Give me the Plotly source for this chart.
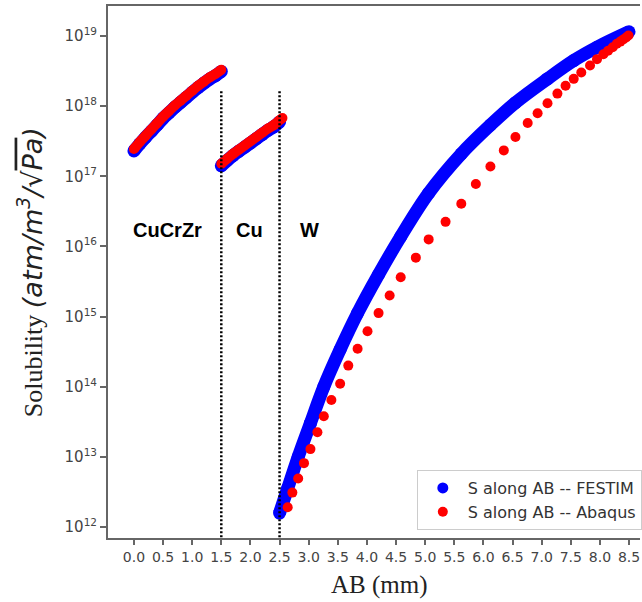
import math
import plotly.graph_objects as go

# ---------------- data ----------------
# CuCrZr layer (0 - 1.5 mm)
cucrzr_x = [0.0, 0.1, 0.2, 0.3, 0.4, 0.5, 0.6, 0.7, 0.8, 0.9, 1.0, 1.1, 1.2, 1.3, 1.4, 1.5]
cucrzr_festim = [2.30e17, 2.90e17, 3.60e17, 4.40e17, 5.40e17, 6.70e17, 8.00e17, 9.60e17,
                 1.13e18, 1.33e18, 1.57e18, 1.84e18, 2.12e18, 2.43e18, 2.72e18, 3.13e18]
cucrzr_abaqus = [2.45e17, 3.09e17, 3.80e17, 4.68e17, 5.75e17, 7.08e17, 8.51e17, 1.02e18,
                 1.20e18, 1.41e18, 1.66e18, 1.95e18, 2.24e18, 2.57e18, 2.88e18, 3.31e18]

# Cu layer (1.5 - 2.5 mm)
cu_x_festim = [1.5, 1.6, 1.7, 1.8, 1.9, 2.0, 2.1, 2.2, 2.3, 2.4, 2.5]
cu_festim = [1.41e17, 1.68e17, 1.97e17, 2.27e17, 2.60e17, 2.98e17, 3.43e17, 3.94e17,
             4.52e17, 5.07e17, 5.95e17]
cu_x_abaqus = [1.5, 1.6, 1.7, 1.8, 1.9, 2.0, 2.1, 2.2, 2.3, 2.4, 2.5, 2.55]
cu_abaqus = [1.51e17, 1.78e17, 2.09e17, 2.40e17, 2.75e17, 3.16e17, 3.63e17, 4.17e17,
             4.79e17, 5.37e17, 6.31e17, 6.76e17]

# W layer (2.5 - 8.5 mm)
w_x_festim = [2.5, 2.64, 2.82, 3.03, 3.26, 3.54, 3.84, 4.2, 4.58, 5.06, 5.62, 6.12,
              6.55, 7.1, 7.55, 7.95, 8.5]
w_festim = [1.58e12, 3.55e12, 1.00e13, 3.02e13, 1.00e14, 3.39e14, 1.12e15, 3.98e15,
            1.38e16, 5.75e16, 2.09e17, 5.37e17, 1.12e18, 2.45e18, 4.47e18, 6.92e18, 1.15e19]
w_x_abaqus = [2.64, 2.72, 2.82, 2.92, 3.03, 3.15, 3.26, 3.39, 3.54, 3.68, 3.84, 4.01,
              4.20, 4.39, 4.58, 4.84, 5.06, 5.35, 5.62, 5.87, 6.12, 6.35, 6.55, 6.76,
              6.93, 7.10, 7.27, 7.41, 7.55, 7.68, 7.83, 7.95, 8.06, 8.14, 8.22, 8.29,
              8.35, 8.40, 8.45, 8.49]
w_abaqus = [1.91e12, 3.09e12, 4.90e12, 8.13e12, 1.29e13, 2.24e13, 3.80e13, 6.46e13,
            1.10e14, 2.00e14, 3.47e14, 6.17e14, 1.12e15, 2.00e15, 3.63e15, 6.92e15,
            1.26e16, 2.24e16, 4.07e16, 7.76e16, 1.38e17, 2.34e17, 3.63e17, 5.75e17,
            7.94e17, 1.10e18, 1.51e18, 1.95e18, 2.45e18, 3.02e18, 3.80e18, 4.68e18,
            5.50e18, 6.17e18, 6.92e18, 7.76e18, 8.32e18, 8.91e18, 9.55e18, 1.02e19]

# interfaces
interface_x = [1.5, 2.5]
interface_top = [1.74e18, 1.66e18]

# layer labels
layer_names = ["CuCrZr", "Cu", "W"]
layer_label_x = [0.58, 1.99, 3.01]
layer_label_y = 1.7e16

x_ticks = [0.0, 0.5, 1.0, 1.5, 2.0, 2.5, 3.0, 3.5, 4.0, 4.5, 5.0, 5.5, 6.0, 6.5, 7.0, 7.5, 8.0, 8.5]
y_ticks = [1e12, 1e13, 1e14, 1e15, 1e16, 1e17, 1e18, 1e19]
y_tick_text = ["10<sup>12</sup>", "10<sup>13</sup>", "10<sup>14</sup>", "10<sup>15</sup>",
               "10<sup>16</sup>", "10<sup>17</sup>", "10<sup>18</sup>", "10<sup>19</sup>"]

x_title = "AB (mm)"
y_title = ("Solubility <span style='font-family:DejaVu Sans;font-style:italic;font-size:27px'>"
           "(atm/m<sup>3</sup>/√<span style='text-decoration:overline'>Pa</span>)</span>")

BLUE = "#0000ff"
RED = "#ff0000"

fig = go.Figure()

# FESTIM (dense blue markers)
for xs, ys in [(cucrzr_x, cucrzr_festim), (cu_x_festim, cu_festim), (w_x_festim, w_festim)]:
    fig.add_trace(go.Scatter(x=xs, y=ys, mode="lines+markers",
                             line=dict(color=BLUE, width=13, shape="spline"),
                             marker=dict(color=BLUE, size=13),
                             showlegend=False, hoverinfo="skip"))
fig.add_trace(go.Scatter(x=[None], y=[None], mode="markers", name="S along AB -- FESTIM",
                         marker=dict(color=BLUE, size=11)))

# Abaqus (red markers)
for xs, ys in [(cucrzr_x, cucrzr_abaqus), (cu_x_abaqus, cu_abaqus)]:
    fig.add_trace(go.Scatter(x=xs, y=ys, mode="lines+markers",
                             line=dict(color=RED, width=10, shape="spline"),
                             marker=dict(color=RED, size=10),
                             showlegend=False, hoverinfo="skip"))
fig.add_trace(go.Scatter(x=w_x_abaqus, y=w_abaqus, mode="markers", name="S along AB -- Abaqus",
                         marker=dict(color=RED, size=10)))

# interface dotted lines
for xi, top in zip(interface_x, interface_top):
    fig.add_trace(go.Scatter(x=[xi, xi], y=[1e11, top], mode="lines",
                             line=dict(color="black", width=2.5, dash="2px,2px"),
                             showlegend=False, hoverinfo="skip"))

for name, lx in zip(layer_names, layer_label_x):
    fig.add_annotation(x=lx, y=math.log10(layer_label_y), text="<b>%s</b>" % name, showarrow=False,
                       font=dict(family="Liberation Sans", size=20, color="black"),
                       xanchor="center", yanchor="middle")

# axis titles as annotations (precise placement)
fig.add_annotation(xref="paper", yref="paper", x=0.511, y=-0.088, text=x_title,
                   showarrow=False, xanchor="center", yanchor="middle",
                   font=dict(family="Liberation Serif", size=25, color="#222222"))
fig.add_annotation(xref="paper", yref="paper", x=-0.148, y=0.5, text=y_title,
                   showarrow=False, xanchor="center", yanchor="middle", textangle=-90,
                   font=dict(family="Liberation Serif", size=26, color="#222222"))

fig.update_layout(
    width=642, height=602,
    margin=dict(l=108, r=0, t=6, b=64),
    paper_bgcolor="white", plot_bgcolor="white",
    legend=dict(x=0.5805, y=0.015, xanchor="left", yanchor="bottom", itemwidth=40,
                bordercolor="#cccccc", borderwidth=1, bgcolor="rgba(255,255,255,0.85)",
                font=dict(family="DejaVu Sans", size=16, color="#333333")),
)
fig.update_xaxes(range=[-0.445, 8.688], tickvals=x_ticks,
                 ticktext=["%.1f" % v for v in x_ticks], automargin=False,
                 ticklabeloverflow="allow",
                 ticks="outside", ticklen=5, tickwidth=1.5, tickcolor="#666666",
                 showline=True, linecolor="#666666", linewidth=2, mirror=True,
                 showgrid=False, zeroline=False,
                 tickfont=dict(family="DejaVu Sans", size=14, color="#444444"))
fig.update_yaxes(type="log", range=[11.843, 19.428], tickvals=y_ticks, ticktext=y_tick_text,
                 automargin=False,
                 ticks="outside", ticklen=6, tickwidth=1.5, tickcolor="#666666",
                 showline=True, linecolor="#666666", linewidth=2,
                 showgrid=False, zeroline=False,
                 tickfont=dict(family="DejaVu Sans", size=15, color="#444444"))

# remove the page's default body margin so the 642x602 figure fills the window exactly
fig.write_html("out.html", config={"displayModeBar": False},
               post_script="document.body.style.margin='0';document.body.style.overflow='hidden';")
